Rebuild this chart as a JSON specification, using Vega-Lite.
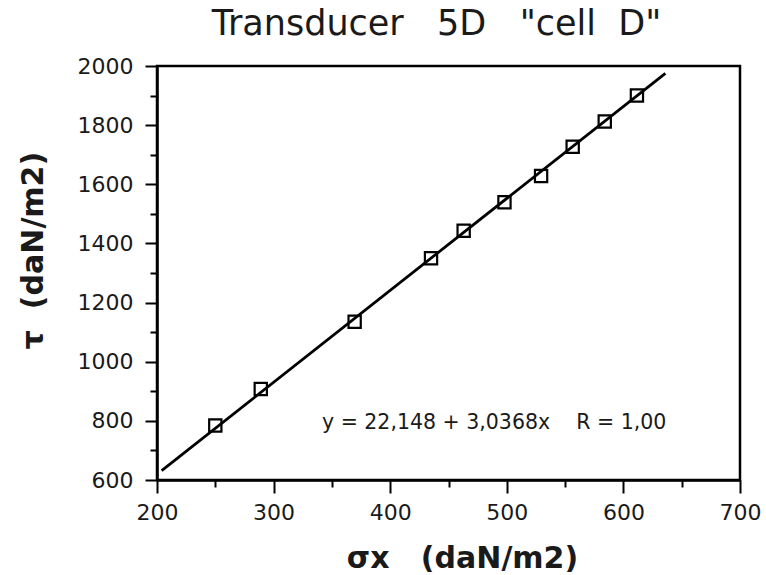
{
  "$schema": "https://vega.github.io/schema/vega-lite/v6.json",
  "width": 583,
  "height": 414,
  "autosize": {"type": "none"},
  "padding": {"left": 157, "top": 66, "right": 26, "bottom": 95},
  "background": "white",
  "title": {
    "text": "Transducer\u00a0\u00a0\u00a05D\u00a0\u00a0\u00a0\"cell\u00a0\u00a0D\"",
    "font": "DejaVu Sans",
    "fontSize": 35,
    "fontWeight": "normal",
    "color": "#1a1a1a",
    "anchor": "middle",
    "baseline": "alphabetic",
    "offset": 20,
    "dx": -12,
    "dy": 35
  },
  "config": {
    "view": {"stroke": "black", "strokeWidth": 2.5},
    "axis": {
      "domainColor": "black",
      "domainWidth": 2.5,
      "tickColor": "black",
      "tickWidth": 2,
      "grid": false,
      "labelFont": "DejaVu Sans",
      "labelFontSize": 22,
      "labelColor": "#1a1a1a",
      "titleColor": "#1a1a1a",
      "titleFont": "DejaVu Sans"
    }
  },
  "encoding": {
    "x": {
      "field": "sigma",
      "type": "quantitative",
      "scale": {"domain": [200, 700], "nice": false, "zero": false},
      "axis": {
        "values": [200, 250, 300, 350, 400, 450, 500, 550, 600, 650, 700],
        "format": "d",
        "labelExpr": "datum.value % 100 === 0 ? datum.label : ''",
        "tickSize": {"condition": {"test": "datum.value % 100 === 0", "value": 13}, "value": 7},
        "labelPadding": 9,
        "labelFlush": false,
        "title": "σx\u00a0\u00a0\u00a0(daN/m2)",
        "titleFontSize": 30,
        "titleFontWeight": "bold",
        "titleX": 305,
        "titleY": 87,
        "titleAlign": "center",
        "titleBaseline": "alphabetic"
      }
    },
    "y": {
      "field": "tau",
      "type": "quantitative",
      "scale": {"domain": [600, 2000], "nice": false, "zero": false},
      "axis": {
        "values": [600, 700, 800, 900, 1000, 1100, 1200, 1300, 1400, 1500, 1600, 1700, 1800, 1900, 2000],
        "format": "d",
        "labelExpr": "datum.value % 200 === 0 ? datum.label : ''",
        "tickSize": {"condition": {"test": "datum.value % 200 === 0", "value": 12}, "value": 7},
        "labelPadding": 12,
        "labelFlush": false,
        "title": "τ\u00a0\u00a0(daN/m2)",
        "titleFontSize": 30,
        "titleFontWeight": "bold",
        "titleAngle": -90,
        "titleX": -124,
        "titleY": 184,
        "titleAlign": "center",
        "titleBaseline": "middle"
      }
    }
  },
  "layer": [
    {
      "data": {"values": [{"sigma": 204, "tau": 632}, {"sigma": 636, "tau": 1975}]},
      "mark": {"type": "line", "color": "black", "strokeWidth": 2.8}
    },
    {
      "data": {
        "values": [
          {"sigma": 250, "tau": 784},
          {"sigma": 289, "tau": 908},
          {"sigma": 369.5, "tau": 1135},
          {"sigma": 435, "tau": 1350},
          {"sigma": 463, "tau": 1443},
          {"sigma": 498, "tau": 1539},
          {"sigma": 529.4, "tau": 1628},
          {"sigma": 556.5, "tau": 1727},
          {"sigma": 584, "tau": 1812},
          {"sigma": 611.6, "tau": 1900}
        ]
      },
      "mark": {"type": "point", "shape": "square", "size": 150, "filled": false, "color": "black", "strokeWidth": 2.2, "opacity": 1}
    },
    {
      "data": {"values": [{"sigma": 341.5, "tau": 793, "label": "y = 22,148 + 3,0368x\u00a0\u00a0\u00a0\u00a0R = 1,00"}]},
      "mark": {"type": "text", "align": "left", "baseline": "middle", "font": "DejaVu Sans", "fontSize": 20.5, "color": "#1a1a1a"},
      "encoding": {"text": {"field": "label"}}
    }
  ]
}
